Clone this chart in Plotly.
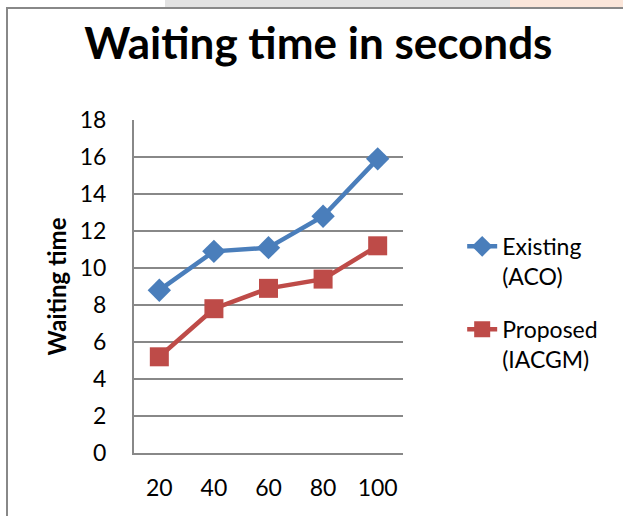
import plotly.graph_objects as go

categories = ["20", "40", "60", "80", "100"]
existing_aco = [8.8, 10.9, 11.1, 12.8, 15.9]
proposed_iacgm = [5.2, 7.8, 8.9, 9.4, 11.2]
y_ticks = [0, 2, 4, 6, 8, 10, 12, 14, 16, 18]

FONT = "Lato"

fig = go.Figure()
fig.add_trace(go.Scatter(
    x=categories, y=existing_aco, name="Existing<br>(ACO)", legendgroup="a",
    mode="lines+markers",
    line=dict(color="#4a7ebb", width=4.5),
    marker=dict(symbol="diamond", size=18, color="#4a7ebb"),
))
fig.add_trace(go.Scatter(
    x=categories, y=proposed_iacgm, name="Proposed<br>(IACGM)", legendgroup="b",
    mode="lines+markers",
    line=dict(color="#be4b48", width=4.5),
    marker=dict(symbol="square", size=19, color="#be4b48"),
))

fig.update_layout(
    width=623, height=516,
    margin=dict(l=134, r=220, t=120, b=63),
    paper_bgcolor="white", plot_bgcolor="white",
    font=dict(family=FONT, color="black", size=23),
    title=dict(text="<b>Waiting time in seconds</b>", x=0.511, xanchor="center",
               y=0.915, yanchor="middle", font=dict(size=44, family=FONT)),
    xaxis=dict(type="category", showgrid=False, showline=True, linecolor="#888888",
               linewidth=2, ticks="", tickfont=dict(size=23), ticklabelstandoff=13),
    yaxis=dict(range=[0, 18], tickvals=y_ticks, showgrid=True, gridcolor="#888888",
               gridwidth=2, showline=True, linecolor="#888888", linewidth=2,
               zeroline=False, ticks="", tickfont=dict(size=23), ticklabelstandoff=21,
               title=dict(text="<b>Waiting time</b>", font=dict(size=24), standoff=6)),
    legend=dict(x=1.22, y=0.685, xanchor="left", yanchor="top",
                font=dict(size=23), valign="top", tracegroupgap=20,
                bgcolor="rgba(0,0,0,0)"),
    showlegend=True,
)

# chart frame and faded background strip at top
fig.add_shape(type="rect", xref="paper", yref="paper", layer="below",
              x0=(165 - 134) / 269, x1=(510 - 134) / 269,
              y0=(453 - 0) / 333, y1=(453 - 8) / 333,
              line=dict(width=0), fillcolor="#e2e2e2")
fig.add_shape(type="rect", xref="paper", yref="paper", layer="below",
              x0=(510 - 134) / 269, x1=(623 - 134) / 269,
              y0=(453 - 0) / 333, y1=(453 - 8) / 333,
              line=dict(width=0), fillcolor="#fbe6da")
fig.add_shape(type="rect", xref="paper", yref="paper", layer="below",
              x0=(7 - 134) / 269, x1=(640 - 134) / 269,
              y0=(453 - 530) / 333, y1=(453 - 8) / 333,
              line=dict(width=2, color="#888888"), fillcolor="rgba(0,0,0,0)")

fig.write_html("out.html", config={"displayModeBar": False},
               post_script="document.body.style.margin='0';")
